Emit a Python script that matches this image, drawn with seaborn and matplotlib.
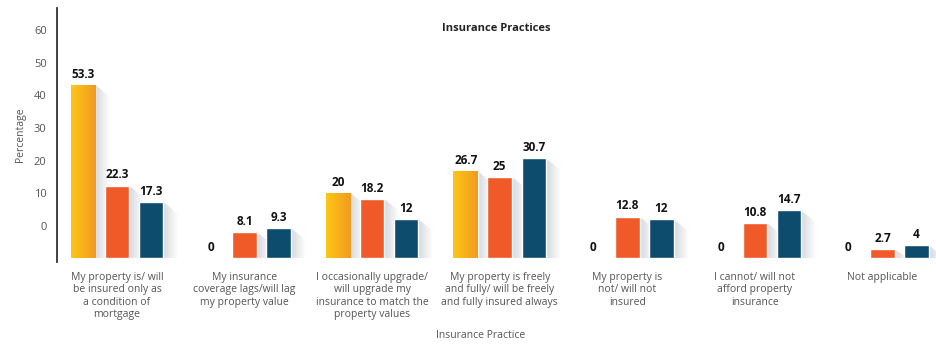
import numpy as np
import pandas as pd
import seaborn as sns
import matplotlib.pyplot as plt
from matplotlib.colors import LinearSegmentedColormap
from matplotlib.patches import Polygon

categories = [
    "My property is/ will\nbe insured only as\na condition of\nmortgage",
    "My insurance\ncoverage lags/will lag\nmy property value",
    "I occasionally upgrade/\nwill upgrade my\ninsurance to match the\nproperty values",
    "My property is freely\nand fully/ will be freely\nand fully insured always",
    "My property is\nnot/ will not\ninsured",
    "I cannot/ will not\nafford property\ninsurance",
    "Not applicable",
]
series_names = ["Series 1", "Series 2", "Series 3"]
series_1 = [53.3, 0, 20, 26.7, 0, 0, 0]
series_2 = [22.3, 8.1, 18.2, 25, 12.8, 10.8, 2.7]
series_3 = [17.3, 9.3, 12, 30.7, 12, 14.7, 4]
ytick_labels = ["", "0", "10", "20", "30", "40", "50", "60"]

df = pd.DataFrame({
    "practice": categories * 3,
    "series": [n for n in series_names for _ in categories],
    "value": series_1 + series_2 + series_3,
})

sns.set_style("white")
plt.rcParams["font.family"] = ["Open Sans", "DejaVu Sans"]

fig = plt.figure(figsize=(9.36, 3.44), dpi=100)
ax = fig.add_axes([0.061, 0.238, 0.939, 0.74])

sns.barplot(
    data=df, x="practice", y="value", hue="series",
    palette=["#FBB91B", "#F05A28", "#0E4C6E"],
    width=0.8, gap=0.28, saturation=1, legend=False, ax=ax, zorder=3,
)

ylim = (-1.2, 77)
xlim = (-0.47, 6.42)

# value labels
for cont in ax.containers:
    ax.bar_label(cont, labels=[f"{b.get_height():g}" for b in cont],
                 padding=3, fontsize=8.5, fontweight="bold", color="#111111")

# soft shadows to the right of bars
shade = LinearSegmentedColormap.from_list("shade", ["#cfd2d8", "#ffffff"])
grad = np.linspace(0, 1, 128).reshape(1, -1)
for cont in ax.containers:
    for b in cont:
        h = b.get_height()
        if h <= 0:
            continue
        x1 = b.get_x() + b.get_width()
        dx, dy = 0.11, min(3.5, h)
        poly = Polygon([(x1, h), (x1 + dx, h - dy), (x1 + dx, 0), (x1, 0)],
                       closed=True, facecolor="none", edgecolor="none")
        ax.add_patch(poly)
        im = ax.imshow(grad, extent=[x1, x1 + dx, 0, h], cmap=shade,
                       aspect="auto", zorder=2, alpha=0.85)
        im.set_clip_path(poly)

# yellow gradient fill
warm = LinearSegmentedColormap.from_list("warm", ["#FDC716", "#F29A20"])
for b in ax.containers[0]:
    h = b.get_height()
    if h <= 0:
        continue
    im = ax.imshow(grad, extent=[b.get_x(), b.get_x() + b.get_width(), 0, h],
                   cmap=warm, aspect="auto", zorder=3.5)
    im.set_clip_path(b)

ax.set_xlim(*xlim)
ax.set_ylim(*ylim)
ax.set_yticks(range(0, 80, 10))
ax.set_yticklabels(ytick_labels)
ax.tick_params(axis="y", length=3, width=3, direction="inout",
               colors="#333333", labelcolor="#555555", labelsize=8, pad=6)
ax.tick_params(axis="x", length=0, labelcolor="#555555", labelsize=7.5, pad=7)
for lbl in ax.get_xticklabels():
    lbl.set_verticalalignment("top")
    lbl.set_linespacing(1.18)

for s in ["top", "right", "bottom"]:
    ax.spines[s].set_visible(False)
ax.spines["left"].set_color("#333333")
ax.spines["left"].set_linewidth(1.3)

ax.set_xlabel("Insurance Practice", fontsize=7.5, color="#555555", va="center")
ax.xaxis.set_label_coords(0.482, -0.29)
ax.set_ylabel("Percentage", fontsize=7.5, color="#555555", labelpad=6)
ax.set_title("Insurance Practices", fontsize=8, fontweight="bold",
             color="#222222", y=0.875)

fig.savefig("out.png", dpi=100)
